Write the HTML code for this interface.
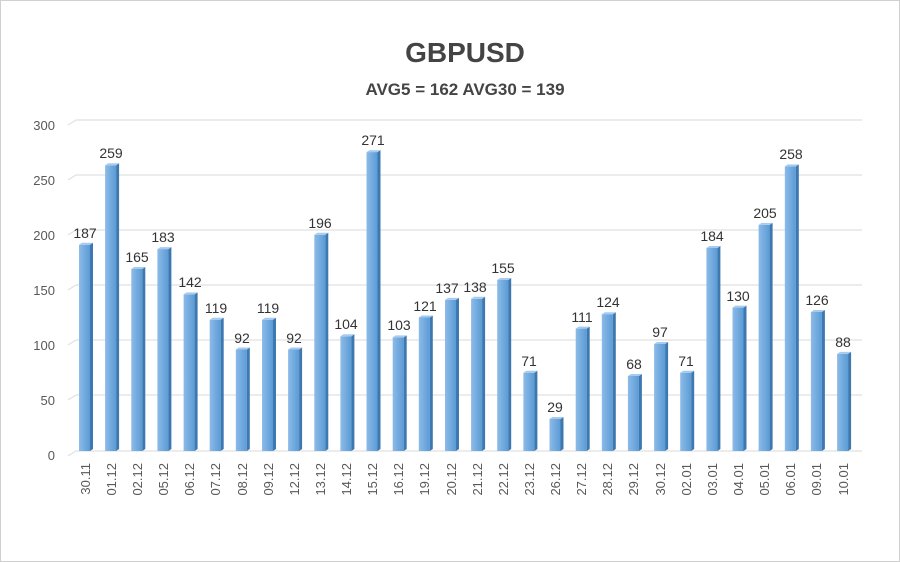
<!DOCTYPE html>
<html><head><meta charset="utf-8"><style>
body{margin:0;background:#fff}
svg{display:block;font-family:"Liberation Sans",sans-serif}
</style></head><body>
<svg width="900" height="562" viewBox="0 0 900 562">
<defs>
<linearGradient id="g" x1="0" x2="1" y1="0" y2="0"><stop offset="0" stop-color="#8cbbe8"/><stop offset="1" stop-color="#5b9bd5"/></linearGradient>
<symbol id="b"></symbol>
</defs>
<rect x="0.5" y="0.5" width="899" height="561" fill="#fff" stroke="#d0d0d0"/>
<text x="465" y="62" text-anchor="middle" font-size="28" font-weight="bold" fill="#444">GBPUSD</text>
<text x="465" y="95" text-anchor="middle" font-size="17" font-weight="bold" fill="#444">AVG5 = 162 AVG30 = 139</text>
<g stroke="#dadada" stroke-width="1" fill="none">
<path d="M68,125 L76,120 H862"/><path d="M68,180 L76,175 H862"/><path d="M68,235 L76,230 H862"/><path d="M68,290 L76,285 H862"/><path d="M68,345 L76,340 H862"/><path d="M68,400 L76,395 H862"/><path d="M68,456 L76,451 H862"/>
</g>
<g font-size="13" fill="#595959" text-anchor="end">
<text x="55" y="130">300</text><text x="55" y="185">250</text><text x="55" y="240">200</text><text x="55" y="295">150</text><text x="55" y="350">100</text><text x="55" y="405">50</text><text x="55" y="460">0</text>
</g>
<g id="bars" fill="url(#g)">
<!-- c, top -->
<g transform="translate(85,0)"><rect x="-6" y="244.7" width="11" height="206.3"/><path d="M5,244.7 l3,-2 V449 l-3,2z" fill="#3e78b0"/><path d="M-6,244.7 l3,-2 h11 l-3,2z" fill="#a6cbee"/></g>
<g transform="translate(111.1,0)"><rect x="-6" y="165.3" width="11" height="285.7"/><path d="M5,165.3 l3,-2 V449 l-3,2z" fill="#3e78b0"/><path d="M-6,165.3 l3,-2 h11 l-3,2z" fill="#a6cbee"/></g>
<g transform="translate(137.3,0)"><rect x="-6" y="269" width="11" height="182"/><path d="M5,269 l3,-2 V449 l-3,2z" fill="#3e78b0"/><path d="M-6,269 l3,-2 h11 l-3,2z" fill="#a6cbee"/></g>
<g transform="translate(163.4,0)"><rect x="-6" y="249.1" width="11" height="201.9"/><path d="M5,249.1 l3,-2 V449 l-3,2z" fill="#3e78b0"/><path d="M-6,249.1 l3,-2 h11 l-3,2z" fill="#a6cbee"/></g>
<g transform="translate(189.6,0)"><rect x="-6" y="294.4" width="11" height="156.6"/><path d="M5,294.4 l3,-2 V449 l-3,2z" fill="#3e78b0"/><path d="M-6,294.4 l3,-2 h11 l-3,2z" fill="#a6cbee"/></g>
<g transform="translate(215.7,0)"><rect x="-6" y="319.7" width="11" height="131.3"/><path d="M5,319.7 l3,-2 V449 l-3,2z" fill="#3e78b0"/><path d="M-6,319.7 l3,-2 h11 l-3,2z" fill="#a6cbee"/></g>
<g transform="translate(241.8,0)"><rect x="-6" y="349.5" width="11" height="101.5"/><path d="M5,349.5 l3,-2 V449 l-3,2z" fill="#3e78b0"/><path d="M-6,349.5 l3,-2 h11 l-3,2z" fill="#a6cbee"/></g>
<g transform="translate(268,0)"><rect x="-6" y="319.7" width="11" height="131.3"/><path d="M5,319.7 l3,-2 V449 l-3,2z" fill="#3e78b0"/><path d="M-6,319.7 l3,-2 h11 l-3,2z" fill="#a6cbee"/></g>
<g transform="translate(294.1,0)"><rect x="-6" y="349.5" width="11" height="101.5"/><path d="M5,349.5 l3,-2 V449 l-3,2z" fill="#3e78b0"/><path d="M-6,349.5 l3,-2 h11 l-3,2z" fill="#a6cbee"/></g>
<g transform="translate(320.3,0)"><rect x="-6" y="234.8" width="11" height="216.2"/><path d="M5,234.8 l3,-2 V449 l-3,2z" fill="#3e78b0"/><path d="M-6,234.8 l3,-2 h11 l-3,2z" fill="#a6cbee"/></g>
<g transform="translate(346.4,0)"><rect x="-6" y="336.3" width="11" height="114.7"/><path d="M5,336.3 l3,-2 V449 l-3,2z" fill="#3e78b0"/><path d="M-6,336.3 l3,-2 h11 l-3,2z" fill="#a6cbee"/></g>
<g transform="translate(372.5,0)"><rect x="-6" y="152.1" width="11" height="298.9"/><path d="M5,152.1 l3,-2 V449 l-3,2z" fill="#3e78b0"/><path d="M-6,152.1 l3,-2 h11 l-3,2z" fill="#a6cbee"/></g>
<g transform="translate(398.7,0)"><rect x="-6" y="337.4" width="11" height="113.6"/><path d="M5,337.4 l3,-2 V449 l-3,2z" fill="#3e78b0"/><path d="M-6,337.4 l3,-2 h11 l-3,2z" fill="#a6cbee"/></g>
<g transform="translate(424.8,0)"><rect x="-6" y="317.5" width="11" height="133.5"/><path d="M5,317.5 l3,-2 V449 l-3,2z" fill="#3e78b0"/><path d="M-6,317.5 l3,-2 h11 l-3,2z" fill="#a6cbee"/></g>
<g transform="translate(451,0)"><rect x="-6" y="299.9" width="11" height="151.1"/><path d="M5,299.9 l3,-2 V449 l-3,2z" fill="#3e78b0"/><path d="M-6,299.9 l3,-2 h11 l-3,2z" fill="#a6cbee"/></g>
<g transform="translate(477.1,0)"><rect x="-6" y="298.8" width="11" height="152.2"/><path d="M5,298.8 l3,-2 V449 l-3,2z" fill="#3e78b0"/><path d="M-6,298.8 l3,-2 h11 l-3,2z" fill="#a6cbee"/></g>
<g transform="translate(503.2,0)"><rect x="-6" y="280" width="11" height="171"/><path d="M5,280 l3,-2 V449 l-3,2z" fill="#3e78b0"/><path d="M-6,280 l3,-2 h11 l-3,2z" fill="#a6cbee"/></g>
<g transform="translate(529.4,0)"><rect x="-6" y="372.7" width="11" height="78.3"/><path d="M5,372.7 l3,-2 V449 l-3,2z" fill="#3e78b0"/><path d="M-6,372.7 l3,-2 h11 l-3,2z" fill="#a6cbee"/></g>
<g transform="translate(555.5,0)"><rect x="-6" y="419" width="11" height="32"/><path d="M5,419 l3,-2 V449 l-3,2z" fill="#3e78b0"/><path d="M-6,419 l3,-2 h11 l-3,2z" fill="#a6cbee"/></g>
<g transform="translate(581.7,0)"><rect x="-6" y="328.6" width="11" height="122.4"/><path d="M5,328.6 l3,-2 V449 l-3,2z" fill="#3e78b0"/><path d="M-6,328.6 l3,-2 h11 l-3,2z" fill="#a6cbee"/></g>
<g transform="translate(607.8,0)"><rect x="-6" y="314.2" width="11" height="136.8"/><path d="M5,314.2 l3,-2 V449 l-3,2z" fill="#3e78b0"/><path d="M-6,314.2 l3,-2 h11 l-3,2z" fill="#a6cbee"/></g>
<g transform="translate(633.9,0)"><rect x="-6" y="376" width="11" height="75"/><path d="M5,376 l3,-2 V449 l-3,2z" fill="#3e78b0"/><path d="M-6,376 l3,-2 h11 l-3,2z" fill="#a6cbee"/></g>
<g transform="translate(660.1,0)"><rect x="-6" y="344" width="11" height="107"/><path d="M5,344 l3,-2 V449 l-3,2z" fill="#3e78b0"/><path d="M-6,344 l3,-2 h11 l-3,2z" fill="#a6cbee"/></g>
<g transform="translate(686.2,0)"><rect x="-6" y="372.7" width="11" height="78.3"/><path d="M5,372.7 l3,-2 V449 l-3,2z" fill="#3e78b0"/><path d="M-6,372.7 l3,-2 h11 l-3,2z" fill="#a6cbee"/></g>
<g transform="translate(712.4,0)"><rect x="-6" y="248" width="11" height="203"/><path d="M5,248 l3,-2 V449 l-3,2z" fill="#3e78b0"/><path d="M-6,248 l3,-2 h11 l-3,2z" fill="#a6cbee"/></g>
<g transform="translate(738.5,0)"><rect x="-6" y="307.6" width="11" height="143.4"/><path d="M5,307.6 l3,-2 V449 l-3,2z" fill="#3e78b0"/><path d="M-6,307.6 l3,-2 h11 l-3,2z" fill="#a6cbee"/></g>
<g transform="translate(764.6,0)"><rect x="-6" y="224.9" width="11" height="226.1"/><path d="M5,224.9 l3,-2 V449 l-3,2z" fill="#3e78b0"/><path d="M-6,224.9 l3,-2 h11 l-3,2z" fill="#a6cbee"/></g>
<g transform="translate(790.8,0)"><rect x="-6" y="166.4" width="11" height="284.6"/><path d="M5,166.4 l3,-2 V449 l-3,2z" fill="#3e78b0"/><path d="M-6,166.4 l3,-2 h11 l-3,2z" fill="#a6cbee"/></g>
<g transform="translate(816.9,0)"><rect x="-6" y="312" width="11" height="139"/><path d="M5,312 l3,-2 V449 l-3,2z" fill="#3e78b0"/><path d="M-6,312 l3,-2 h11 l-3,2z" fill="#a6cbee"/></g>
<g transform="translate(843.1,0)"><rect x="-6" y="353.9" width="11" height="97.1"/><path d="M5,353.9 l3,-2 V449 l-3,2z" fill="#3e78b0"/><path d="M-6,353.9 l3,-2 h11 l-3,2z" fill="#a6cbee"/></g>
</g>
<g font-size="14" fill="#333" text-anchor="middle">
<text x="85" y="238">187</text><text x="111" y="158">259</text><text x="137" y="262">165</text><text x="163" y="242">183</text><text x="190" y="287">142</text><text x="216" y="313">119</text><text x="242" y="343">92</text><text x="268" y="313">119</text><text x="294" y="343">92</text><text x="320" y="228">196</text><text x="346" y="329">104</text><text x="373" y="145">271</text><text x="399" y="330">103</text><text x="425" y="311">121</text><text x="447" y="293">137</text><text x="475" y="292">138</text><text x="503" y="273">155</text><text x="529" y="366">71</text><text x="555" y="412">29</text><text x="582" y="322">111</text><text x="608" y="307">124</text><text x="634" y="369">68</text><text x="660" y="337">97</text><text x="686" y="366">71</text><text x="712" y="241">184</text><text x="738" y="301">130</text><text x="765" y="218">205</text><text x="791" y="159">258</text><text x="817" y="305">126</text><text x="843" y="347">88</text>
</g>
<g font-size="13" fill="#595959" text-anchor="end">
<text transform="translate(90,463) rotate(-90)">30.11</text>
<text transform="translate(116,463) rotate(-90)">01.12</text>
<text transform="translate(142,463) rotate(-90)">02.12</text>
<text transform="translate(168,463) rotate(-90)">05.12</text>
<text transform="translate(194,463) rotate(-90)">06.12</text>
<text transform="translate(220,463) rotate(-90)">07.12</text>
<text transform="translate(247,463) rotate(-90)">08.12</text>
<text transform="translate(273,463) rotate(-90)">09.12</text>
<text transform="translate(299,463) rotate(-90)">12.12</text>
<text transform="translate(325,463) rotate(-90)">13.12</text>
<text transform="translate(351,463) rotate(-90)">14.12</text>
<text transform="translate(377,463) rotate(-90)">15.12</text>
<text transform="translate(403,463) rotate(-90)">16.12</text>
<text transform="translate(429,463) rotate(-90)">19.12</text>
<text transform="translate(456,463) rotate(-90)">20.12</text>
<text transform="translate(482,463) rotate(-90)">21.12</text>
<text transform="translate(508,463) rotate(-90)">22.12</text>
<text transform="translate(534,463) rotate(-90)">23.12</text>
<text transform="translate(560,463) rotate(-90)">26.12</text>
<text transform="translate(586,463) rotate(-90)">27.12</text>
<text transform="translate(612,463) rotate(-90)">28.12</text>
<text transform="translate(638,463) rotate(-90)">29.12</text>
<text transform="translate(665,463) rotate(-90)">30.12</text>
<text transform="translate(691,463) rotate(-90)">02.01</text>
<text transform="translate(717,463) rotate(-90)">03.01</text>
<text transform="translate(743,463) rotate(-90)">04.01</text>
<text transform="translate(769,463) rotate(-90)">05.01</text>
<text transform="translate(795,463) rotate(-90)">06.01</text>
<text transform="translate(821,463) rotate(-90)">09.01</text>
<text transform="translate(848,463) rotate(-90)">10.01</text>
</g>
</svg>
</body></html>
